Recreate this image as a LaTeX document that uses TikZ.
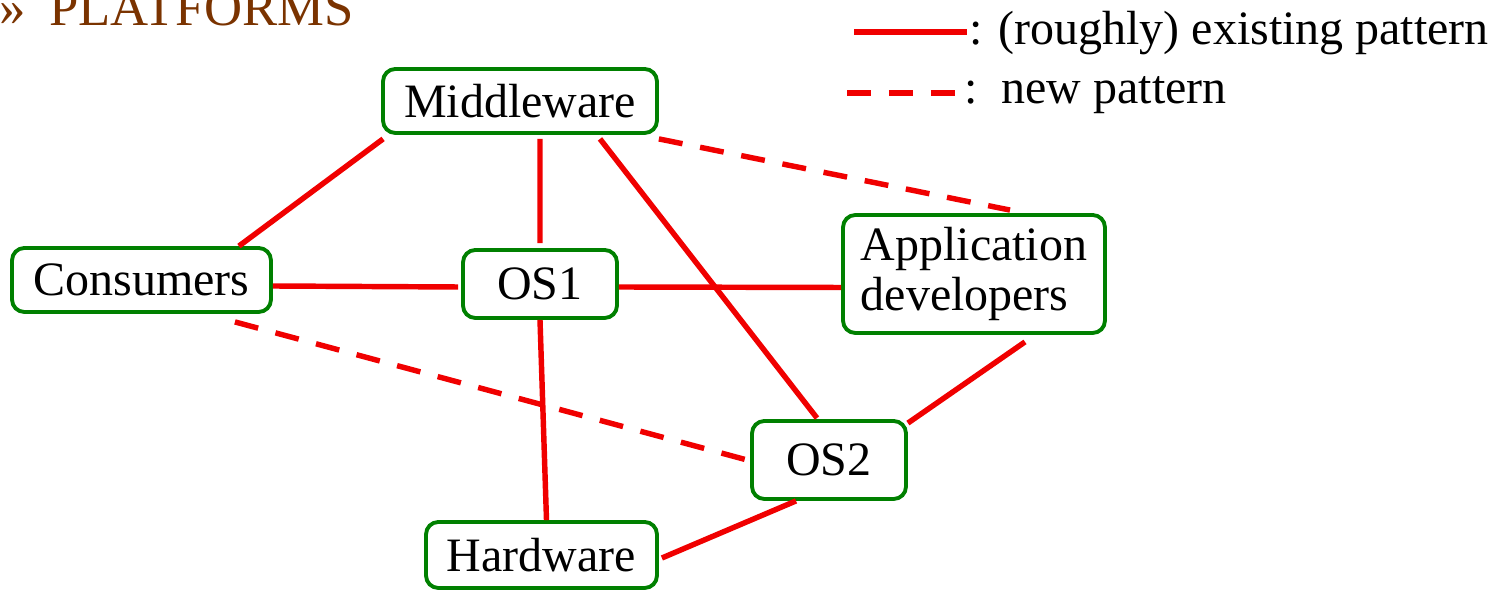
\documentclass[tikz,border=0pt]{standalone}
\usepackage{fontspec}
\setmainfont{Liberation Serif}
\definecolor{boxgreen}{RGB}{0,128,0}
\definecolor{linered}{RGB}{240,0,0}
\definecolor{titlebrown}{RGB}{122,51,0}
\tikzset{
  box/.style={draw=boxgreen, line width=2.2pt, rounded corners=7pt, fill=white, inner sep=0pt,
    font=\fontsize{27.3}{30}\selectfont},
  link/.style={draw=linered, line width=3.1pt},
  newlink/.style={link, dash pattern=on 13.7pt off 10.2pt},
  legtext/.style={anchor=base west, inner sep=0pt, font=\fontsize{27.3}{30}\selectfont},
}
\begin{document}
\begin{tikzpicture}[x=0.02cm,y=-0.02cm]
\useasboundingbox (0,0) rectangle (1499,590);
% title
\node[anchor=base west, inner sep=0pt, text=titlebrown, font=\fontsize{30}{34}\selectfont] (title) at (-1,26) {»\hspace{0.45em}PLATFORMS};
% legend
\coordinate (l1a) at (854,32);
\coordinate (l1b) at (967,32);
\coordinate (l2a) at (847,93);
\coordinate (l2b) at (955,93);
\draw[link] (l1a) -- (l1b);
\draw[newlink] (l2a) -- (l2b);
\node[legtext] (leg1) at (969,45) {: (roughly) existing pattern};
\node[legtext] (leg2) at (964,104) {:\ \ new pattern};
% nodes
\node[box, minimum width=5.48cm, minimum height=1.28cm] (mid) at (520,101) {Middleware};
\node[box, minimum width=5.18cm, minimum height=1.28cm] (cons) at (141.5,280) {Consumers};
\node[box, minimum width=3.08cm, minimum height=1.36cm] (os1) at (540,284) {OS1};
\node[box, minimum width=5.24cm, minimum height=2.36cm, align=left, font=\fontsize{27.3}{28.5}\selectfont] (app) at (974,274) {Application\\developers};
\node[box, minimum width=3.08cm, minimum height=1.56cm] (os2) at (829,460) {OS2};
\node[box, minimum width=4.62cm, minimum height=1.32cm] (hw) at (541.5,555) {Hardware};
% connectors
\draw[link] ([shift={(0.04cm,-0.08cm)}]mid.south west) -- ([xshift=-0.68cm]cons.north east);
\draw[link] ([shift={(0.4cm,-0.08cm)}]mid.south) -- ([yshift=0.1cm]os1.north);
\draw[link] ([shift={(1.6cm,-0.08cm)}]mid.south) -- ([shift={(-0.24cm,0.02cm)}]os2.north);
\draw[newlink] ([yshift=-0.08cm]mid.south east) -- ([shift={(0.72cm,0.06cm)}]app.north);
\draw[link] ([yshift=-0.12cm]cons.east) -- ([shift={(-0.06cm,-0.06cm)}]os1.west);
\draw[link] ([yshift=-0.06cm]os1.east) -- ([yshift=-0.27cm]app.west);
\draw[newlink] ([shift={(-0.76cm,-0.16cm)}]cons.south east) -- ([xshift=-0.06cm]os2.west);
\draw[link] (os1.south) -- ([xshift=0.1cm]hw.north);
\draw[link] ([shift={(1.02cm,-0.14cm)}]app.south) -- ([shift={(0.0cm,-0.08cm)}]os2.north east);
\draw[link] ([xshift=-0.66cm]os2.south) -- ([shift={(0.06cm,-0.06cm)}]hw.east);
\end{tikzpicture}
\end{document}
